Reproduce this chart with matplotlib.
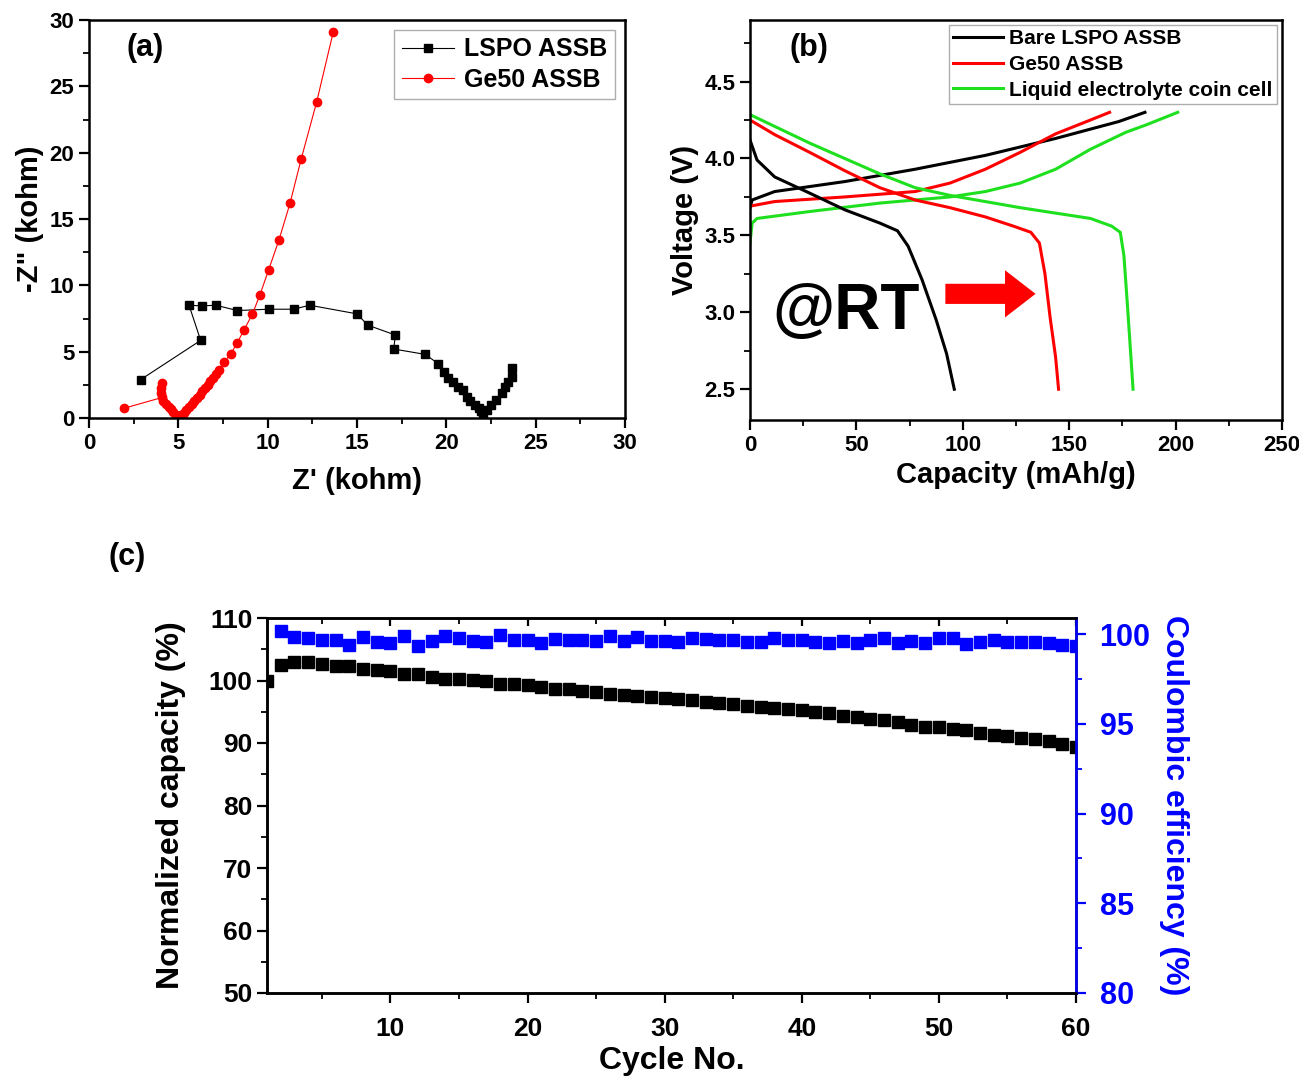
import matplotlib
matplotlib.use('Agg')
import matplotlib.pyplot as plt
from matplotlib.ticker import MultipleLocator
from matplotlib.patches import FancyArrowPatch

plt.rcParams['font.family'] = ['Liberation Sans', 'DejaVu Sans']
plt.rcParams['font.weight'] = 'bold'
plt.rcParams['axes.labelweight'] = 'bold'

# (a) Nyquist plots, kohm
lspo_zre = [2.9, 6.25, 5.6, 6.3, 7.1, 8.3, 10.05, 11.45, 12.35, 15.0, 15.6, 17.15, 17.05,
            18.8, 19.55, 19.85, 20.1, 20.4, 20.65, 20.95, 21.15, 21.3, 21.6, 21.85, 21.95,
            22.05, 22.25, 22.5, 22.8, 23.1, 23.3, 23.45, 23.65, 23.65]
lspo_zim = [2.9, 5.85, 8.5, 8.45, 8.5, 8.1, 8.2, 8.2, 8.5, 7.85, 7.0, 6.25, 5.2,
            4.8, 4.1, 3.5, 3.0, 2.75, 2.35, 2.1, 1.6, 1.25, 1.0, 0.75, 0.5,
            0.35, 0.6, 1.0, 1.35, 1.85, 2.35, 2.75, 3.1, 3.75]
ge50_zre = [1.95, 4.1, 4.03, 4.03, 4.08, 4.15, 4.3, 4.45, 4.6, 4.72, 4.85, 4.95, 5.02,
            5.15, 5.3, 5.45, 5.6, 5.75, 5.9, 6.05, 6.2, 6.35, 6.5, 6.65, 6.8, 6.95, 7.1,
            7.28, 7.55, 7.93, 8.3, 8.67, 9.14, 9.57, 10.05, 10.63, 11.25, 11.88, 12.74, 13.67]
ge50_zim = [0.73, 1.55, 1.9, 2.25, 2.62, 1.3, 1.05, 0.85, 0.65, 0.45, 0.25, 0.1, 0.05,
            0.2, 0.4, 0.6, 0.82, 1.05, 1.28, 1.5, 1.75, 2.0, 2.25, 2.5, 2.78, 3.05, 3.32,
            3.65, 4.2, 4.82, 5.67, 6.63, 7.81, 9.29, 11.15, 13.41, 16.18, 19.54, 23.81, 29.09]

# (b) charge / discharge curves (capacity mAh/g, voltage V)
bare_chg_cap = [0, 1, 11.6, 44.6, 77.6, 110.6, 143.6, 173.3, 185.6]
bare_chg_v = [3.68, 3.73, 3.785, 3.85, 3.93, 4.02, 4.13, 4.24, 4.30]
bare_dis_cap = [0, 3.3, 11.6, 28, 44.6, 61, 69.3, 74.3, 80.9, 87.5, 92.4, 96]
bare_dis_v = [4.12, 3.99, 3.88, 3.775, 3.666, 3.58, 3.53, 3.43, 3.21, 2.95, 2.73, 2.5]
ge50_chg_cap = [0, 11.6, 44.6, 77.6, 94, 110.6, 127, 143.6, 160, 169]
ge50_chg_v = [3.69, 3.72, 3.75, 3.785, 3.84, 3.93, 4.04, 4.16, 4.25, 4.30]
ge50_dis_cap = [0, 11.6, 28, 44.6, 61, 77.6, 94, 110.6, 123.8, 132, 136, 138.6, 141, 143.6, 145]
ge50_dis_v = [4.25, 4.155, 4.04, 3.92, 3.81, 3.73, 3.68, 3.62, 3.56, 3.52, 3.45, 3.25, 2.97, 2.71, 2.5]
liq_chg_cap = [0, 1, 3.3, 28, 61, 94, 110.6, 127, 143.6, 160, 176.6, 186.5, 201]
liq_chg_v = [3.45, 3.58, 3.61, 3.655, 3.71, 3.75, 3.785, 3.84, 3.93, 4.06, 4.17, 4.22, 4.30]
liq_dis_cap = [0, 28, 61, 77.6, 94, 127, 160, 170, 174, 175.7, 177.4, 179, 180]
liq_dis_v = [4.285, 4.10, 3.90, 3.81, 3.76, 3.68, 3.61, 3.56, 3.52, 3.37, 3.04, 2.71, 2.5]

# (c) cycling
cycles = list(range(1, 61))
norm_cap = [100.0, 102.5, 102.9, 102.9, 102.6, 102.4, 102.4, 101.8, 101.7, 101.5,
            101.0, 101.0, 100.5, 100.3, 100.3, 100.1, 99.9, 99.5, 99.5, 99.3,
            99.0, 98.6, 98.6, 98.4, 98.2, 97.8, 97.7, 97.5, 97.4, 97.15,
            96.99, 96.88, 96.61, 96.35, 96.19, 95.92, 95.81, 95.55, 95.44, 95.28,
            95.01, 94.85, 94.32, 94.11, 93.84, 93.68, 93.41, 92.88, 92.61, 92.51,
            92.29, 92.08, 91.55, 91.28, 91.17, 90.85, 90.64, 90.32, 89.84, 89.41]
coul_eff = [None, 100.19, 99.85, 99.76, 99.67, 99.70, 99.39, 99.82, 99.57, 99.48,
            99.89, 99.35, 99.61, 99.89, 99.76, 99.63, 99.54, 99.93, 99.70, 99.67,
            99.52, 99.72, 99.67, 99.70, 99.63, 99.89, 99.63, 99.85, 99.63, 99.63,
            99.57, 99.76, 99.72, 99.67, 99.67, 99.57, 99.54, 99.76, 99.67, 99.67,
            99.57, 99.48, 99.63, 99.48, 99.70, 99.76, 99.48, 99.63, 99.48, 99.81,
            99.76, 99.43, 99.57, 99.70, 99.54, 99.54, 99.54, 99.48, 99.39, 99.33]

fig = plt.figure(figsize=(12.99, 10.76), dpi=100)


def style_ax(ax, tsize=16, pad=3.5):
    for s in ax.spines.values():
        s.set_linewidth(1.8)
    ax.tick_params(which='major', direction='out', length=7, width=1.6, labelsize=tsize, pad=pad)
    ax.tick_params(which='minor', direction='out', length=4, width=1.3)


# ---- (a)
ax1 = fig.add_axes([89 / 1299, 1 - 418 / 1076, 536 / 1299, 398 / 1076])
ax1.plot(lspo_zre, lspo_zim, color='black', lw=0.8, marker='s', ms=6, mec='black',
         mfc='black', label='LSPO ASSB')
ax1.plot(ge50_zre, ge50_zim, color='red', lw=0.8, marker='o', ms=6, mec='red',
         mfc='red', label='Ge50 ASSB')
ax1.set_xlim(0, 30)
ax1.set_ylim(0, 30)
ax1.xaxis.set_major_locator(MultipleLocator(5))
ax1.xaxis.set_minor_locator(MultipleLocator(2.5))
ax1.yaxis.set_major_locator(MultipleLocator(5))
ax1.yaxis.set_minor_locator(MultipleLocator(2.5))
style_ax(ax1)
ax1.set_xlabel("Z' (kohm)", fontsize=21, labelpad=10)
ax1.set_ylabel('-Z" (kohm)', fontsize=21, labelpad=4)
ax1.legend(loc='upper right', fontsize=18, handlelength=2.1, labelspacing=0.25,
           borderaxespad=0.4, fancybox=False, edgecolor='#999999', borderpad=0.3,
           handletextpad=0.4)
ax1.text(0.07, 0.93, '(a)', transform=ax1.transAxes, fontsize=22, fontweight='bold',
         va='center', ha='left')

# ---- (b)
ax2 = fig.add_axes([750 / 1299, 1 - 420 / 1076, 532 / 1299, 400 / 1076])
green = '#1fe01f'
ax2.plot(bare_chg_cap, bare_chg_v, color='black', lw=2.2, label='Bare LSPO ASSB')
ax2.plot(ge50_chg_cap, ge50_chg_v, color='red', lw=2.2, label='Ge50 ASSB')
ax2.plot(liq_chg_cap, liq_chg_v, color=green, lw=2.2, label='Liquid electrolyte coin cell')
ax2.plot(bare_dis_cap, bare_dis_v, color='black', lw=2.2)
ax2.plot(ge50_dis_cap, ge50_dis_v, color='red', lw=2.2)
ax2.plot(liq_dis_cap, liq_dis_v, color=green, lw=2.2)
ax2.set_xlim(0, 250)
ax2.set_ylim(2.3, 4.9)
ax2.xaxis.set_major_locator(MultipleLocator(50))
ax2.xaxis.set_minor_locator(MultipleLocator(25))
ax2.yaxis.set_major_locator(MultipleLocator(0.5))
ax2.yaxis.set_minor_locator(MultipleLocator(0.25))
style_ax(ax2)
ax2.set_xlabel('Capacity (mAh/g)', fontsize=21, labelpad=4)
ax2.set_ylabel('Voltage (V)', fontsize=21, labelpad=4)
ax2.legend(loc='upper right', fontsize=15, handlelength=2.4, labelspacing=0.32,
           borderaxespad=0.25, fancybox=False, edgecolor='#999999', borderpad=0.2,
           handletextpad=0.3)
ax2.text(0.075, 0.93, '(b)', transform=ax2.transAxes, fontsize=22, fontweight='bold',
         va='center', ha='left')
ax2.text(45, 3.0, '@RT', fontsize=46, fontweight='bold', ha='center', va='center')
ax2.add_patch(FancyArrowPatch((90.5, 3.12), (135.5, 3.12), mutation_scale=10,
                              arrowstyle='simple,head_length=2.2,head_width=3.4,tail_width=1.45',
                              color='red', lw=0))

# ---- (c)
ax3 = fig.add_axes([267 / 1299, 1 - 993 / 1076, 809 / 1299, 375 / 1076])
ax3.plot(cycles, norm_cap, ls='none', marker='s', ms=9, color='black', clip_on=True)
ax3.set_xlim(1, 60)
ax3.set_ylim(50, 110)
ax3.xaxis.set_major_locator(MultipleLocator(10))
ax3.xaxis.set_minor_locator(MultipleLocator(5))
ax3.yaxis.set_major_locator(MultipleLocator(10))
ax3.yaxis.set_minor_locator(MultipleLocator(5))
style_ax(ax3, tsize=19)
ax3.tick_params(axis='x', pad=10)
ax3.set_xlabel('Cycle No.', fontsize=23, labelpad=4)
ax3.set_ylabel('Normalized capacity (%)', fontsize=23, labelpad=16)
top = ax3.secondary_xaxis('top')
top.xaxis.set_major_locator(MultipleLocator(10))
top.xaxis.set_minor_locator(MultipleLocator(5))
top.tick_params(which='major', direction='in', length=6, width=1.6, labeltop=False)
top.tick_params(which='minor', direction='in', length=4, width=1.3)

ax3r = ax3.twinx()
ce_x = [c for c, v in zip(cycles, coul_eff) if v is not None]
ce_y = [v for v in coul_eff if v is not None]
ax3r.plot(ce_x, ce_y, ls='none', marker='s', ms=9, color='#0000ff')
ax3r.set_ylim(80, 100.9)
ax3r.yaxis.set_major_locator(MultipleLocator(5))
ax3r.yaxis.set_minor_locator(MultipleLocator(2.5))
style_ax(ax3r, tsize=22, pad=10)
ax3r.spines['right'].set_color('#0000ff')
ax3r.tick_params(axis='y', which='both', colors='#0000ff')
ax3r.set_ylabel('Coulombic efficiency (%)', fontsize=23, color='#0000ff',
                rotation=270, labelpad=28)

fig.text(127 / 1299, 1 - 557 / 1076, '(c)', fontsize=22, fontweight='bold',
         ha='center', va='center')

fig.savefig('out.png', dpi=100)
